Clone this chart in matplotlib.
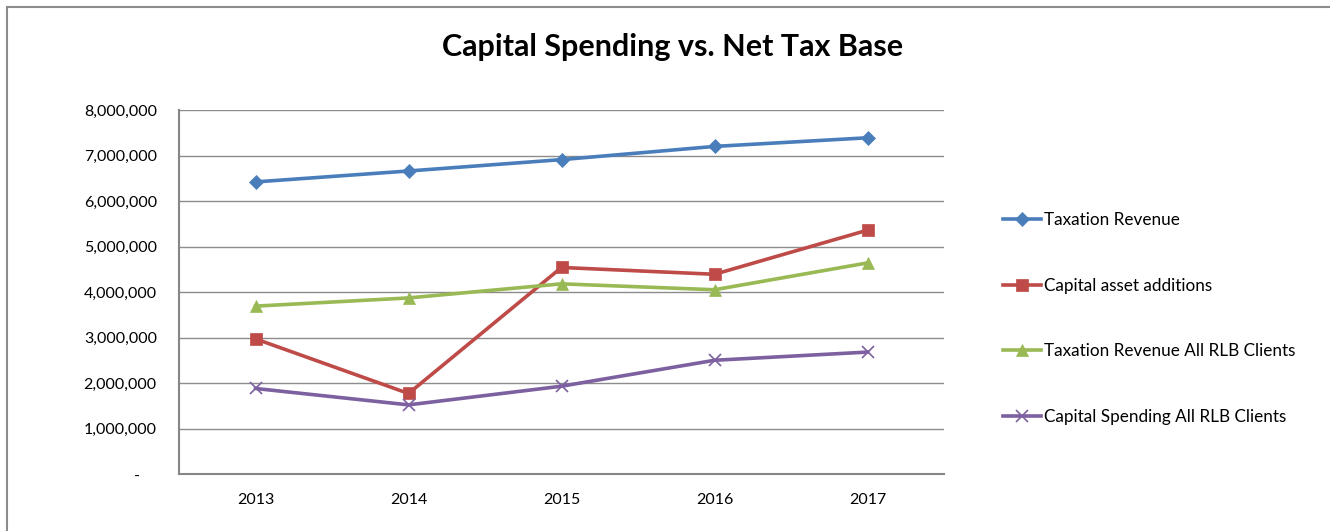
import matplotlib.pyplot as plt
from matplotlib.ticker import FuncFormatter
from matplotlib.patches import Rectangle

plt.rcParams['font.family'] = ['Lato', 'DejaVu Sans']

years = ['2013', '2014', '2015', '2016', '2017']
taxation_revenue = [6420000, 6660000, 6910000, 7200000, 7390000]
capital_additions = [2970000, 1770000, 4540000, 4390000, 5360000]
taxation_rlb = [3690000, 3870000, 4180000, 4050000, 4640000]
capital_rlb = [1880000, 1520000, 1930000, 2500000, 2680000]

series = [
    ('Taxation Revenue', taxation_revenue, '#4A7EBB', 'D', 7),
    ('Capital asset additions', capital_additions, '#BE4B48', 's', 8),
    ('Taxation Revenue All RLB Clients', taxation_rlb, '#98B954', '^', 8),
    ('Capital Spending All RLB Clients', capital_rlb, '#7D60A0', 'x', 8),
]

fig = plt.figure(figsize=(13.3, 5.31), dpi=100)
ax = fig.add_axes([0.1346, 0.1073, 0.5752, 0.6855])

x = range(len(years))
for label, vals, color, marker, ms in series:
    ax.plot(x, vals, color=color, lw=2.6, marker=marker, markersize=ms,
            markeredgewidth=1.2 if marker == 'x' else 0.5,
            markeredgecolor=color, markerfacecolor=color, label=label)

ax.set_xlim(-0.5, 4.5)
ax.set_ylim(0, 8000000)
ax.set_xticks(list(x))
ax.set_xticklabels(years)
ax.set_yticks(range(0, 8000001, 1000000))
# zero shown as a dash, accounting style
ax.yaxis.set_major_formatter(FuncFormatter(lambda v, p: '-    ' if v == 0 else f'{int(v):,}'))
ax.tick_params(length=0, labelsize=11.5)
ax.tick_params(axis='y', pad=16)
ax.tick_params(axis='x', pad=14)

ax.grid(axis='y', color='#8C8C8C', lw=1)
ax.set_axisbelow(True)
for side in ['top', 'right']:
    ax.spines[side].set_visible(False)
for side in ['left', 'bottom']:
    ax.spines[side].set_color('#868686')
    ax.spines[side].set_linewidth(1.5)

fig.text(0.506, 1 - 47 / 531, 'Capital Spending vs. Net Tax Base',
         ha='center', va='center', fontsize=22, fontweight='bold')

fig.legend(loc='upper left', bbox_to_anchor=(0.7478, 0.6165), frameon=False,
           fontsize=12.3, labelspacing=2.9, handlelength=2.2,
           handletextpad=0.2, borderpad=0)

# outer chart border
fig.patches.append(Rectangle((7 / 1330, -0.1), 1.2, (531 - 7) / 531 + 0.1,
                             transform=fig.transFigure, fill=False,
                             edgecolor='#8C8C8C', lw=1.5))

fig.savefig('out.png', dpi=100)
